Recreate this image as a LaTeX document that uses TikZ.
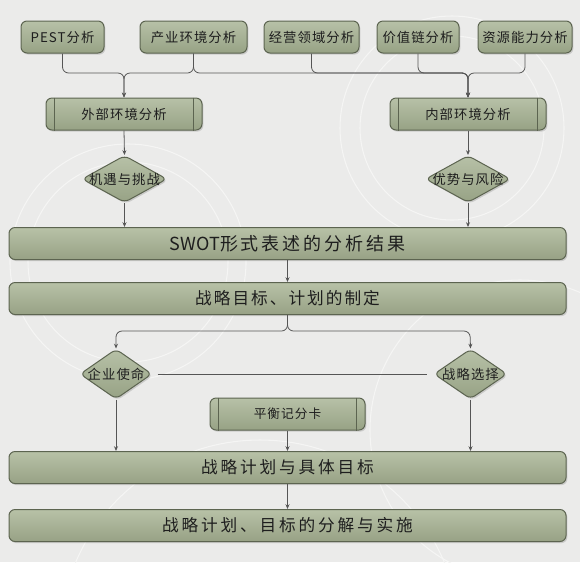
\documentclass[tikz,border=0pt]{standalone}
\usepackage{fontspec}
\setmainfont{Noto Sans CJK SC}
\newfontfamily\midfont[LetterSpace=8]{Noto Sans CJK SC}
\newfontfamily\widefont{Noto Sans CJK SC}
\usetikzlibrary{shapes.geometric,arrows.meta,shadows}

\definecolor{bgcol}{HTML}{EBEBEA}
\definecolor{ringcol}{HTML}{F5F5F4}
\definecolor{boxtop}{HTML}{B7C1A7}
\definecolor{boxbot}{HTML}{97A285}
\definecolor{boxline}{HTML}{5C6450}
\definecolor{flowcol}{HTML}{555555}
\definecolor{txtcol}{HTML}{1E1E1E}

\tikzset{every picture/.style={line width=0.75pt},
  stage/.style={draw=boxline, top color=boxtop, bottom color=boxbot, rounded corners=4.5pt,
    text=txtcol, inner sep=0pt, minimum height=24pt,
    drop shadow={shadow xshift=1pt, shadow yshift=-1.2pt, opacity=0.3}},
  source/.style={stage, font=\midfont\fontsize{10}{12}\selectfont},
  subproc/.style={source, minimum width=117pt},
  wide/.style={stage, minimum width=417.75pt},
  spaced/.style={font=\widefont\fontsize{12.5}{14}\selectfont\addfontfeatures{LetterSpace=#1}},
  decision/.style={diamond, draw=boxline, top color=boxtop, bottom color=boxbot, rounded corners=4pt,
    inner sep=0pt, drop shadow={shadow xshift=1pt, shadow yshift=-1.2pt, opacity=0.3}},
  dtext/.style={text=txtcol, inner sep=0pt, font=\midfont\fontsize{10}{12}\selectfont},
  flow/.style={draw=flowcol, line width=0.6pt, rounded corners=4.5pt, -{Stealth[length=3.6pt,width=3pt]}},
  link/.style={draw=flowcol, line width=0.6pt},
  procline/.style={draw=boxline, line width=0.75pt}
}

\begin{document}
\begin{tikzpicture}[x=0.75pt,y=0.75pt,yscale=-1,xscale=1]
		% background and faint rings
		\fill[bgcol] (0,0) rectangle (580,562);
		\useasboundingbox (0,0) rectangle (580,562);
		\draw[ringcol, line width=0.8pt] (128,262) circle (118);
		\draw[ringcol, line width=0.8pt] (128,262) circle (100);
		\draw[ringcol, line width=0.8pt] (452,128) circle (112);
		\draw[ringcol, line width=0.8pt] (452,128) circle (92);
		\draw[ringcol, line width=0.8pt] (520,430) circle (150);
		\draw[ringcol, line width=0.8pt] (260,640) circle (200);

		% analysis sources
		\node[source, minimum width=62.25pt] (pest) at (62.5,37) {PEST分析};
		\node[source, minimum width=80.25pt] (industry) at (193.5,37) {产业环境分析};
		\node[source, minimum width=71.25pt] (domain) at (311.5,37) {经营领域分析};
		\node[source, minimum width=61.5pt] (chain) at (418,37) {价值链分析};
		\node[source, minimum width=70.5pt] (ability) at (525,37) {资源能力分析};

		% bus points
		\coordinate (busL) at (124,73);
		\coordinate (busR) at (468,73);

		% environment analysis
		\node[subproc] (outer) at (124,114) {外部环境分析};
		\node[subproc] (inner) at (468,114) {内部环境分析};

		% judgements
		\node[decision, minimum width=63.75pt, minimum height=35.25pt, label={[dtext]center:机遇与挑战}] (chance) at (124.5,179) {};
		\node[decision, minimum width=63.75pt, minimum height=35.25pt, label={[dtext]center:优势与风险}] (strength) at (468,179) {};

		% results
		\node[wide, font=\widefont\fontsize{13.5}{15}\selectfont] (swot) at (287.5,243.5) {SWOT{\addfontfeatures{LetterSpace=16}形式表述的分析结果}};
		\node[wide, spaced=12] (goal) at (287.5,298.5) {战略目标、计划的制定};

		\coordinate (forkL) at (116,331);
		\coordinate (forkR) at (470,331);

		\node[decision, minimum width=54pt, minimum height=37.5pt, label={[dtext]center:企业使命}] (mission) at (116,374) {};
		\node[decision, minimum width=54.75pt, minimum height=37.5pt, label={[dtext]center:战略选择}] (choice) at (470.5,374) {};
		\node[source, minimum width=116.25pt, font=\midfont\fontsize{9.5}{11}\selectfont] (bsc) at (287.5,414) {平衡记分卡};

		\node[wide, spaced=17] (plan) at (287.5,467.5) {战略计划与具体目标};
		\node[wide, spaced=17] (split) at (287.5,525.5) {战略计划、目标的分解与实施};

		% inner bars of the sub-process boxes
		\foreach \n in {outer,inner,bsc} {
			\draw[procline] ([xshift=6.75pt]\n.north west) -- ([xshift=6.75pt]\n.south west);
			\draw[procline] ([xshift=-6.75pt]\n.north east) -- ([xshift=-6.75pt]\n.south east);
		}

		% connectors
		\draw[flow] (pest.south) |- (busL) -- (outer.north);
		\draw[flow] (industry.south) |- (busL) -- (outer.north);
		\draw[flow] (industry.south) |- (busR) -- (inner.north);
		\draw[flow] (domain.south) |- (busR) -- (inner.north);
		\draw[flow] (chain.south) |- (busR) -- (inner.north);
		\draw[flow] (ability.south) |- (busR) -- (inner.north);
		\draw[flow] (outer.south) -- (chance.north);
		\draw[flow] (inner.south) -- (strength.north);
		\draw[flow] (chance.south) -- (chance.south |- swot.north);
		\draw[flow] (strength.south) -- (strength.south |- swot.north);
		\draw[flow] (swot.south) -- (goal.north);
		\draw[flow] (goal.south) |- (forkL) -- (mission.north);
		\draw[flow] (goal.south) |- (forkR) -- (choice.north);
		\draw[link] ([xshift=3.75pt]mission.east) -- ([xshift=-5.25pt]choice.west);
		\draw[flow] (mission.south) -- (mission.south |- plan.north);
		\draw[flow] (bsc.south) -- (plan.north);
		\draw[flow] (choice.south) -- (choice.south |- plan.north);
		\draw[flow] (plan.south) -- (split.north);

		\end{tikzpicture}
\end{document}
